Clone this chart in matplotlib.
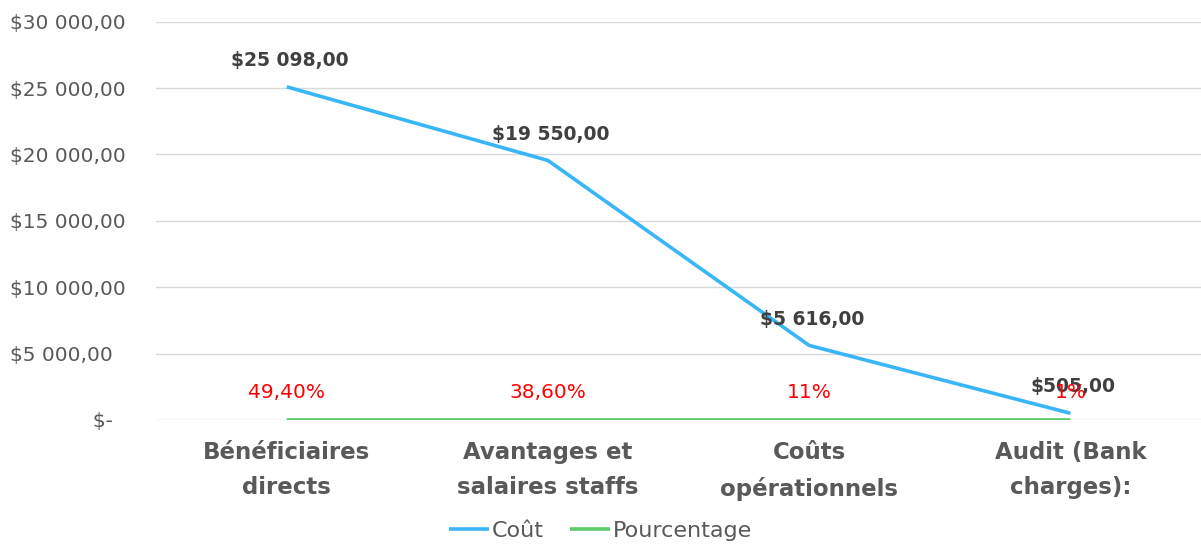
import matplotlib.pyplot as plt
from matplotlib.ticker import FuncFormatter

categories = ["Bénéficiaires\ndirects", "Avantages et\nsalaires staffs", "Coûts\nopérationnels", "Audit (Bank\ncharges):"]
cout = [25098.00, 19550.00, 5616.00, 505.00]
pourcentage = [0.494, 0.386, 0.11, 0.01]
pct_labels = ["49,40%", "38,60%", "11%", "1%"]
cout_labels = ["$25 098,00", "$19 550,00", "$5 616,00", "$505,00"]
yticks = [0, 5000, 10000, 15000, 20000, 25000, 30000]

plt.rcParams['font.family'] = ['DejaVu Sans']

fig = plt.figure(figsize=(12.01, 5.44), dpi=100)
ax = fig.add_axes([0.130, 0.228, 0.870, 0.732])

x = list(range(len(categories)))
ax.plot(x, cout, color='#38B6F8', lw=2.6, label='Coût', solid_capstyle='butt')
ax.plot(x, pourcentage, color='#5CCB6C', lw=2.6, label='Pourcentage', solid_capstyle='butt')

for xi, v, lab in zip(x, cout, cout_labels):
    ax.annotate(lab, (xi, v), xytext=(2, 19), textcoords='offset points',
                ha='center', va='center', fontsize=13.5, fontweight='bold', color='#404040')
for xi, v, lab in zip(x, pourcentage, pct_labels):
    ax.annotate(lab, (xi, v), xytext=(0, 19.5), textcoords='offset points',
                ha='center', va='center', fontsize=14.5, color='#FF0000')

ax.set_xlim(-0.5, len(categories) - 0.5)
ax.set_ylim(0, 30000)
ax.set_yticks(yticks)

def fmt(v, pos):
    if v == 0:
        return " " * 13 + "$-"
    s = f"{int(v):,}".replace(",", " ")
    return f"${s},00"

ax.yaxis.set_major_formatter(FuncFormatter(fmt))
ax.set_xticks(x)
ax.set_xticklabels(categories, fontsize=16.5, fontweight='bold', color='#595959', linespacing=1.7)
ax.tick_params(axis='y', labelsize=14.5, labelcolor='#595959', length=0, pad=105)
ax.tick_params(axis='x', length=0, pad=15)
for lab in ax.get_yticklabels():
    lab.set_horizontalalignment('left')

ax.grid(axis='y', color='#D9D9D9', lw=1)
ax.set_axisbelow(True)
for s in ax.spines.values():
    s.set_visible(False)

leg = fig.legend(loc='center', bbox_to_anchor=(0.5, 0.024), ncol=2, frameon=False,
                 fontsize=16, handlelength=1.8, handletextpad=0.1, columnspacing=1.2,
                 labelcolor='#595959')

fig.savefig('out.png', dpi=100)
